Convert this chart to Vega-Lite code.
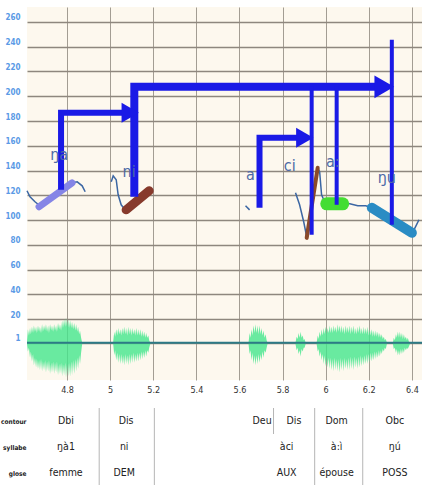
{
  "$schema": "https://vega.github.io/schema/vega-lite/v6.json",
  "padding": {"left": 0, "top": 7, "right": 0, "bottom": 0},
  "spacing": 9,
  "background": "white",
  "config": {"view": {"stroke": null}},
  "datasets": {
    "wave": [
      {"b":1,"t":4.614,"v":2,"v2":0},{"b":1,"t":4.618,"v":12,"v2":-6},{"b":1,"t":4.623,"v":7,"v2":-3},{"b":1,"t":4.628,"v":13,"v2":-11},{"b":1,"t":4.632,"v":8,"v2":-6},{"b":1,"t":4.637,"v":14,"v2":-14},{"b":1,"t":4.642,"v":9,"v2":-8},{"b":1,"t":4.646,"v":15,"v2":-17},{"b":1,"t":4.651,"v":10,"v2":-11},{"b":1,"t":4.656,"v":14,"v2":-19},{"b":1,"t":4.660,"v":9,"v2":-12},{"b":1,"t":4.665,"v":15,"v2":-20},{"b":1,"t":4.670,"v":10,"v2":-13},{"b":1,"t":4.674,"v":14,"v2":-21},{"b":1,"t":4.679,"v":9,"v2":-12},{"b":1,"t":4.684,"v":16,"v2":-22},{"b":1,"t":4.688,"v":10,"v2":-14},{"b":1,"t":4.693,"v":15,"v2":-21},{"b":1,"t":4.698,"v":11,"v2":-13},{"b":1,"t":4.702,"v":16,"v2":-23},{"b":1,"t":4.707,"v":10,"v2":-14},{"b":1,"t":4.712,"v":15,"v2":-22},{"b":1,"t":4.716,"v":9,"v2":-13},{"b":1,"t":4.721,"v":16,"v2":-24},{"b":1,"t":4.726,"v":11,"v2":-15},{"b":1,"t":4.730,"v":15,"v2":-23},{"b":1,"t":4.735,"v":10,"v2":-14},{"b":1,"t":4.740,"v":16,"v2":-24},{"b":1,"t":4.744,"v":11,"v2":-15},{"b":1,"t":4.749,"v":15,"v2":-23},{"b":1,"t":4.753,"v":10,"v2":-14},{"b":1,"t":4.758,"v":17,"v2":-25},{"b":1,"t":4.763,"v":12,"v2":-16},{"b":1,"t":4.767,"v":16,"v2":-24},{"b":1,"t":4.772,"v":11,"v2":-15},{"b":1,"t":4.777,"v":19,"v2":-26},{"b":1,"t":4.781,"v":13,"v2":-16},{"b":1,"t":4.786,"v":20,"v2":-25},{"b":1,"t":4.791,"v":14,"v2":-15},{"b":1,"t":4.795,"v":21,"v2":-27},{"b":1,"t":4.800,"v":14,"v2":-16},{"b":1,"t":4.805,"v":20,"v2":-26},{"b":1,"t":4.809,"v":13,"v2":-15},{"b":1,"t":4.814,"v":19,"v2":-26},{"b":1,"t":4.819,"v":13,"v2":-14},{"b":1,"t":4.823,"v":18,"v2":-25},{"b":1,"t":4.828,"v":12,"v2":-13},{"b":1,"t":4.833,"v":17,"v2":-24},{"b":1,"t":4.838,"v":11,"v2":-12},{"b":1,"t":4.842,"v":16,"v2":-22},{"b":1,"t":4.847,"v":10,"v2":-11},{"b":1,"t":4.851,"v":14,"v2":-20},{"b":1,"t":4.856,"v":8,"v2":-9},{"b":1,"t":4.860,"v":11,"v2":-16},{"b":1,"t":4.865,"v":5,"v2":-7},{"b":1,"t":4.870,"v":1,"v2":0},
      {"b":2,"t":5.014,"v":2,"v2":0},{"b":2,"t":5.019,"v":10,"v2":-9},{"b":2,"t":5.023,"v":6,"v2":-5},{"b":2,"t":5.028,"v":12,"v2":-13},{"b":2,"t":5.033,"v":7,"v2":-7},{"b":2,"t":5.037,"v":13,"v2":-15},{"b":2,"t":5.042,"v":8,"v2":-8},{"b":2,"t":5.047,"v":12,"v2":-16},{"b":2,"t":5.051,"v":7,"v2":-8},{"b":2,"t":5.056,"v":13,"v2":-16},{"b":2,"t":5.060,"v":8,"v2":-9},{"b":2,"t":5.065,"v":14,"v2":-17},{"b":2,"t":5.070,"v":8,"v2":-8},{"b":2,"t":5.074,"v":13,"v2":-16},{"b":2,"t":5.079,"v":7,"v2":-9},{"b":2,"t":5.084,"v":14,"v2":-17},{"b":2,"t":5.088,"v":8,"v2":-8},{"b":2,"t":5.093,"v":13,"v2":-16},{"b":2,"t":5.098,"v":7,"v2":-8},{"b":2,"t":5.102,"v":13,"v2":-15},{"b":2,"t":5.107,"v":8,"v2":-7},{"b":2,"t":5.112,"v":12,"v2":-15},{"b":2,"t":5.116,"v":7,"v2":-8},{"b":2,"t":5.121,"v":13,"v2":-14},{"b":2,"t":5.126,"v":7,"v2":-7},{"b":2,"t":5.130,"v":12,"v2":-14},{"b":2,"t":5.135,"v":7,"v2":-7},{"b":2,"t":5.140,"v":12,"v2":-13},{"b":2,"t":5.144,"v":6,"v2":-6},{"b":2,"t":5.149,"v":11,"v2":-12},{"b":2,"t":5.153,"v":6,"v2":-6},{"b":2,"t":5.158,"v":10,"v2":-11},{"b":2,"t":5.163,"v":5,"v2":-5},{"b":2,"t":5.167,"v":9,"v2":-10},{"b":2,"t":5.172,"v":5,"v2":-5},{"b":2,"t":5.177,"v":7,"v2":-7},{"b":2,"t":5.181,"v":3,"v2":-3},{"b":2,"t":5.186,"v":1,"v2":0},
      {"b":3,"t":5.642,"v":1,"v2":0},{"b":3,"t":5.647,"v":9,"v2":-8},{"b":3,"t":5.651,"v":5,"v2":-5},{"b":3,"t":5.656,"v":12,"v2":-13},{"b":3,"t":5.660,"v":7,"v2":-7},{"b":3,"t":5.665,"v":15,"v2":-16},{"b":3,"t":5.670,"v":9,"v2":-9},{"b":3,"t":5.674,"v":16,"v2":-17},{"b":3,"t":5.679,"v":9,"v2":-9},{"b":3,"t":5.684,"v":15,"v2":-16},{"b":3,"t":5.688,"v":8,"v2":-8},{"b":3,"t":5.693,"v":15,"v2":-15},{"b":3,"t":5.698,"v":8,"v2":-8},{"b":3,"t":5.702,"v":13,"v2":-13},{"b":3,"t":5.707,"v":7,"v2":-6},{"b":3,"t":5.712,"v":11,"v2":-11},{"b":3,"t":5.716,"v":5,"v2":-5},{"b":3,"t":5.721,"v":8,"v2":-7},{"b":3,"t":5.726,"v":3,"v2":-3},{"b":3,"t":5.730,"v":1,"v2":0},
      {"b":4,"t":5.860,"v":1,"v2":0},{"b":4,"t":5.865,"v":6,"v2":-5},{"b":4,"t":5.870,"v":4,"v2":-3},{"b":4,"t":5.874,"v":9,"v2":-8},{"b":4,"t":5.879,"v":5,"v2":-5},{"b":4,"t":5.884,"v":10,"v2":-10},{"b":4,"t":5.888,"v":5,"v2":-4},{"b":4,"t":5.893,"v":7,"v2":-6},{"b":4,"t":5.898,"v":3,"v2":-3},{"b":4,"t":5.902,"v":4,"v2":-3},{"b":4,"t":5.907,"v":1,"v2":0},
      {"b":5,"t":5.958,"v":1,"v2":0},{"b":5,"t":5.963,"v":7,"v2":-6},{"b":5,"t":5.967,"v":4,"v2":-4},{"b":5,"t":5.972,"v":10,"v2":-10},{"b":5,"t":5.977,"v":6,"v2":-6},{"b":5,"t":5.981,"v":12,"v2":-13},{"b":5,"t":5.986,"v":7,"v2":-8},{"b":5,"t":5.991,"v":13,"v2":-16},{"b":5,"t":5.995,"v":8,"v2":-9},{"b":5,"t":6.000,"v":14,"v2":-18},{"b":5,"t":6.005,"v":8,"v2":-10},{"b":5,"t":6.009,"v":13,"v2":-19},{"b":5,"t":6.014,"v":9,"v2":-11},{"b":5,"t":6.019,"v":15,"v2":-20},{"b":5,"t":6.023,"v":9,"v2":-11},{"b":5,"t":6.028,"v":14,"v2":-21},{"b":5,"t":6.033,"v":9,"v2":-12},{"b":5,"t":6.037,"v":15,"v2":-22},{"b":5,"t":6.042,"v":10,"v2":-11},{"b":5,"t":6.047,"v":14,"v2":-21},{"b":5,"t":6.051,"v":9,"v2":-12},{"b":5,"t":6.056,"v":16,"v2":-22},{"b":5,"t":6.060,"v":10,"v2":-12},{"b":5,"t":6.065,"v":15,"v2":-23},{"b":5,"t":6.070,"v":9,"v2":-11},{"b":5,"t":6.074,"v":15,"v2":-21},{"b":5,"t":6.079,"v":9,"v2":-12},{"b":5,"t":6.084,"v":14,"v2":-22},{"b":5,"t":6.088,"v":8,"v2":-11},{"b":5,"t":6.093,"v":15,"v2":-20},{"b":5,"t":6.098,"v":9,"v2":-12},{"b":5,"t":6.102,"v":14,"v2":-21},{"b":5,"t":6.107,"v":9,"v2":-11},{"b":5,"t":6.112,"v":15,"v2":-21},{"b":5,"t":6.116,"v":8,"v2":-10},{"b":5,"t":6.121,"v":14,"v2":-20},{"b":5,"t":6.126,"v":9,"v2":-11},{"b":5,"t":6.130,"v":15,"v2":-21},{"b":5,"t":6.135,"v":8,"v2":-10},{"b":5,"t":6.140,"v":13,"v2":-19},{"b":5,"t":6.144,"v":8,"v2":-11},{"b":5,"t":6.149,"v":14,"v2":-20},{"b":5,"t":6.153,"v":9,"v2":-10},{"b":5,"t":6.158,"v":15,"v2":-19},{"b":5,"t":6.163,"v":8,"v2":-9},{"b":5,"t":6.167,"v":13,"v2":-18},{"b":5,"t":6.172,"v":8,"v2":-10},{"b":5,"t":6.177,"v":14,"v2":-17},{"b":5,"t":6.181,"v":8,"v2":-9},{"b":5,"t":6.186,"v":13,"v2":-16},{"b":5,"t":6.191,"v":8,"v2":-8},{"b":5,"t":6.195,"v":14,"v2":-16},{"b":5,"t":6.200,"v":7,"v2":-8},{"b":5,"t":6.205,"v":12,"v2":-15},{"b":5,"t":6.209,"v":7,"v2":-7},{"b":5,"t":6.214,"v":12,"v2":-14},{"b":5,"t":6.219,"v":6,"v2":-7},{"b":5,"t":6.223,"v":11,"v2":-13},{"b":5,"t":6.228,"v":6,"v2":-6},{"b":5,"t":6.233,"v":11,"v2":-12},{"b":5,"t":6.237,"v":6,"v2":-6},{"b":5,"t":6.242,"v":10,"v2":-11},{"b":5,"t":6.247,"v":5,"v2":-5},{"b":5,"t":6.251,"v":9,"v2":-10},{"b":5,"t":6.256,"v":5,"v2":-5},{"b":5,"t":6.260,"v":8,"v2":-8},{"b":5,"t":6.265,"v":4,"v2":-4},{"b":5,"t":6.270,"v":6,"v2":-6},{"b":5,"t":6.274,"v":3,"v2":-3},{"b":5,"t":6.279,"v":4,"v2":-4},{"b":5,"t":6.284,"v":1,"v2":0},
      {"b":6,"t":6.312,"v":1,"v2":0},{"b":6,"t":6.316,"v":5,"v2":-4},{"b":6,"t":6.321,"v":3,"v2":-3},{"b":6,"t":6.326,"v":8,"v2":-7},{"b":6,"t":6.330,"v":5,"v2":-4},{"b":6,"t":6.335,"v":10,"v2":-9},{"b":6,"t":6.340,"v":5,"v2":-5},{"b":6,"t":6.344,"v":10,"v2":-9},{"b":6,"t":6.349,"v":5,"v2":-4},{"b":6,"t":6.354,"v":9,"v2":-8},{"b":6,"t":6.358,"v":4,"v2":-4},{"b":6,"t":6.363,"v":8,"v2":-7},{"b":6,"t":6.367,"v":4,"v2":-3},{"b":6,"t":6.372,"v":6,"v2":-5},{"b":6,"t":6.377,"v":3,"v2":-3},{"b":6,"t":6.381,"v":5,"v2":-4},{"b":6,"t":6.386,"v":2,"v2":-2},{"b":6,"t":6.391,"v":1,"v2":0}
    ],
    "base": [{"t": 4.614, "t2": 6.447, "v": 1}],
    "thin": [
      {"seg":"s1","ord":1,"t":4.614,"v":123.7},{"seg":"s1","ord":2,"t":4.628,"v":118.8},{"seg":"s1","ord":3,"t":4.651,"v":114.8},{"seg":"s1","ord":4,"t":4.674,"v":111.6},
      {"seg":"s2","ord":1,"t":4.823,"v":130.1},{"seg":"s2","ord":2,"t":4.847,"v":130.9},{"seg":"s2","ord":3,"t":4.870,"v":127.7},{"seg":"s2","ord":4,"t":4.884,"v":122.9},
      {"seg":"s3","ord":1,"t":5.005,"v":130.9},{"seg":"s3","ord":2,"t":5.014,"v":135.8},{"seg":"s3","ord":3,"t":5.028,"v":132.6},{"seg":"s3","ord":4,"t":5.037,"v":120.5},{"seg":"s3","ord":5,"t":5.051,"v":112.4},{"seg":"s3","ord":6,"t":5.070,"v":108.3},
      {"seg":"s4","ord":1,"t":5.628,"v":111.6},{"seg":"s4","ord":2,"t":5.647,"v":108.3},
      {"seg":"s5","ord":1,"t":5.860,"v":122.1},{"seg":"s5","ord":2,"t":5.879,"v":112.4},{"seg":"s5","ord":3,"t":5.898,"v":98.7},{"seg":"s5","ord":4,"t":5.912,"v":86.6},
      {"seg":"s6","ord":1,"t":5.963,"v":142.2},{"seg":"s6","ord":2,"t":5.972,"v":139},{"seg":"s6","ord":3,"t":5.981,"v":120.5},{"seg":"s6","ord":4,"t":5.995,"v":114.8},{"seg":"s6","ord":5,"t":6.009,"v":113.2},
      {"seg":"s7","ord":1,"t":6.079,"v":114},{"seg":"s7","ord":2,"t":6.112,"v":113.2},{"seg":"s7","ord":3,"t":6.149,"v":111.6},{"seg":"s7","ord":4,"t":6.186,"v":111.6},{"seg":"s7","ord":5,"t":6.214,"v":110},
      {"seg":"s8","ord":1,"t":6.405,"v":90.6},{"seg":"s8","ord":2,"t":6.419,"v":95.4},{"seg":"s8","ord":3,"t":6.433,"v":100.3}
    ],
    "thick": [
      {"seg":"nga","ord":1,"t":4.670,"v":110.8},{"seg":"nga","ord":2,"t":4.823,"v":130.1},
      {"seg":"ni","ord":1,"t":5.074,"v":108.3},{"seg":"ni","ord":2,"t":5.181,"v":123.7},
      {"seg":"ci","ord":1,"t":5.912,"v":85.7},{"seg":"ci","ord":2,"t":5.963,"v":142.2},
      {"seg":"ar","ord":1,"t":6.005,"v":113.2},{"seg":"ar","ord":2,"t":6.079,"v":113.2},
      {"seg":"ngu","ord":1,"t":6.214,"v":110},{"seg":"ngu","ord":2,"t":6.400,"v":89.8}
    ],
    "arrows": [
      {"id":"A","ord":1,"t":4.772,"v":124.5},{"id":"A","ord":2,"t":4.772,"v":186.6},{"id":"A","ord":3,"t":5.10,"v":186.6},
      {"id":"B","ord":1,"t":5.112,"v":118.8},{"id":"B","ord":2,"t":5.112,"v":207.6},{"id":"B","ord":3,"t":6.28,"v":207.6},
      {"id":"C","ord":1,"t":5.693,"v":110},{"id":"C","ord":2,"t":5.693,"v":166.5},{"id":"C","ord":3,"t":5.91,"v":166.5},
      {"id":"D","ord":1,"t":5.935,"v":88.2},{"id":"D","ord":2,"t":5.935,"v":207.6},
      {"id":"E","ord":1,"t":6.051,"v":112.4},{"id":"E","ord":2,"t":6.051,"v":207.6},
      {"id":"F","ord":1,"t":6.307,"v":96.2},{"id":"F","ord":2,"t":6.307,"v":245.6}
    ],
    "heads": [
      {"id":"A","t":5.093,"v":186.6},
      {"id":"B","t":6.272,"v":207.6},
      {"id":"C","t":5.903,"v":166.5}
    ],
    "syl": [
      {"label":"ŋa","t":4.763,"v":152.7},
      {"label":"ni","t":5.088,"v":139},
      {"label":"a","t":5.651,"v":136.6},
      {"label":"ci","t":5.833,"v":143.9},
      {"label":"a:","t":6.033,"v":147.1},
      {"label":"ŋu","t":6.284,"v":134.2}
    ],
    "cells": [
      {"t":4.795,"v":0.5,"label":"Dbi"},{"t":5.074,"v":0.5,"label":"Dis"},{"t":5.705,"v":0.5,"label":"Deu"},{"t":5.853,"v":0.5,"label":"Dis"},{"t":6.051,"v":0.5,"label":"Dom"},{"t":6.321,"v":0.5,"label":"Obc"},
      {"t":4.795,"v":1.5,"label":"ŋà1"},{"t":5.065,"v":1.5,"label":"ni"},{"t":5.819,"v":1.5,"label":"àci"},{"t":6.051,"v":1.5,"label":"à:ì"},{"t":6.321,"v":1.5,"label":"ŋú"},
      {"t":4.795,"v":2.5,"label":"femme"},{"t":5.065,"v":2.5,"label":"DEM"},{"t":5.819,"v":2.5,"label":"AUX"},{"t":6.051,"v":2.5,"label":"épouse"},{"t":6.321,"v":2.5,"label":"POSS"}
    ],
    "hlines": [{"v":0},{"v":1},{"v":2}],
    "vseps": [
      {"t":4.949,"v":0,"v2":3},{"t":5.205,"v":0,"v2":3},{"t":5.758,"v":0,"v2":1},{"t":5.949,"v":0,"v2":3},{"t":6.172,"v":0,"v2":3}
    ]
  },
  "vconcat": [
    {
      "width": 395,
      "height": 373,
      "view": {"fill": "#fdf8ee", "stroke": null},
      "encoding": {
        "x": {"field": "t", "type": "quantitative",
          "scale": {"domain": [4.614, 6.447], "nice": false, "zero": false},
          "axis": {"title": null, "values": [4.8, 5, 5.2, 5.4, 5.6, 5.8, 6, 6.2, 6.4], "format": "~g",
            "grid": true, "gridColor": "#a39d93", "gridWidth": 1, "ticks": false, "domain": false,
            "labelColor": "#333333", "labelFontSize": 9, "labelFont": "DejaVu Sans Condensed, Liberation Sans, sans-serif", "labelPadding": 5,
            "minExtent": 18, "maxExtent": 18}},
        "y": {"field": "v", "type": "quantitative",
          "scale": {"domain": [-29, 272], "nice": false, "zero": false},
          "axis": {"title": null, "values": [1, 20, 40, 60, 80, 100, 120, 140, 160, 180, 200, 220, 240, 260],
            "grid": true, "gridColor": "#8e877e", "gridWidth": 1.5, "ticks": false, "domain": false,
            "labelColor": "#5b9ae6", "labelFontSize": 8, "labelFontWeight": "bold", "labelFont": "DejaVu Sans Condensed, Liberation Sans, sans-serif",
            "labelBaseline": "bottom", "labelPadding": 7, "minExtent": 27, "maxExtent": 27}}
      },
      "layer": [
        {"data": {"name": "wave"}, "mark": {"type": "area", "color": "#43e68c", "opacity": 0.8},
          "encoding": {"y2": {"field": "v2"}, "detail": {"field": "b", "type": "nominal"}}},
        {"data": {"name": "base"}, "mark": {"type": "rule", "color": "#2d7a86", "strokeWidth": 2},
          "encoding": {"x2": {"field": "t2"}}},
        {"data": {"name": "thin"}, "mark": {"type": "line", "color": "#3b66a3", "strokeWidth": 1.5},
          "encoding": {"detail": {"field": "seg", "type": "nominal"}, "order": {"field": "ord", "type": "quantitative"}}},
        {"data": {"name": "thick"}, "transform": [{"filter": "datum.seg == 'nga'"}],
          "mark": {"type": "line", "color": "#8585e6", "strokeWidth": 7, "strokeCap": "round"},
          "encoding": {"order": {"field": "ord", "type": "quantitative"}}},
        {"data": {"name": "thick"}, "transform": [{"filter": "datum.seg == 'ni'"}],
          "mark": {"type": "line", "color": "#873a2c", "strokeWidth": 9, "strokeCap": "round"},
          "encoding": {"order": {"field": "ord", "type": "quantitative"}}},
        {"data": {"name": "thick"}, "transform": [{"filter": "datum.seg == 'ci'"}],
          "mark": {"type": "line", "color": "#8a4a2a", "strokeWidth": 4, "strokeCap": "round"},
          "encoding": {"order": {"field": "ord", "type": "quantitative"}}},
        {"data": {"name": "thick"}, "transform": [{"filter": "datum.seg == 'ar'"}],
          "mark": {"type": "line", "color": "#44dd33", "strokeWidth": 13, "strokeCap": "round"},
          "encoding": {"order": {"field": "ord", "type": "quantitative"}}},
        {"data": {"name": "thick"}, "transform": [{"filter": "datum.seg == 'ngu'"}],
          "mark": {"type": "line", "color": "#2a8cc4", "strokeWidth": 10, "strokeCap": "round"},
          "encoding": {"order": {"field": "ord", "type": "quantitative"}}},
        {"data": {"name": "arrows"}, "transform": [{"filter": "datum.id == 'A' || datum.id == 'C'"}],
          "mark": {"type": "line", "color": "#1a1ae6", "strokeWidth": 6, "strokeJoin": "miter"},
          "encoding": {"detail": {"field": "id", "type": "nominal"}, "order": {"field": "ord", "type": "quantitative"}}},
        {"data": {"name": "arrows"}, "transform": [{"filter": "datum.id == 'B'"}],
          "mark": {"type": "line", "color": "#1a1ae6", "strokeWidth": 8, "strokeJoin": "miter"},
          "encoding": {"order": {"field": "ord", "type": "quantitative"}}},
        {"data": {"name": "arrows"}, "transform": [{"filter": "datum.id == 'D' || datum.id == 'E' || datum.id == 'F'"}],
          "mark": {"type": "line", "color": "#1a1ae6", "strokeWidth": 4},
          "encoding": {"detail": {"field": "id", "type": "nominal"}, "order": {"field": "ord", "type": "quantitative"}}},
        {"data": {"name": "heads"}, "transform": [{"filter": "datum.id != 'B'"}],
          "mark": {"type": "point", "shape": "triangle-right", "filled": true, "color": "#1a1ae6", "size": 400, "opacity": 1}},
        {"data": {"name": "heads"}, "transform": [{"filter": "datum.id == 'B'"}],
          "mark": {"type": "point", "shape": "triangle-right", "filled": true, "color": "#1a1ae6", "size": 520, "opacity": 1}},
        {"data": {"name": "syl"}, "mark": {"type": "text", "color": "#4d6aa6", "fontSize": 16, "font": "DejaVu Sans Condensed, Liberation Sans, sans-serif", "baseline": "middle"},
          "encoding": {"text": {"field": "label", "type": "nominal"}}}
      ]
    },
    {
      "width": 395,
      "height": 78,
      "view": {"fill": "white", "stroke": null},
      "encoding": {
        "x": {"field": "t", "type": "quantitative",
          "scale": {"domain": [4.614, 6.447], "nice": false, "zero": false}, "axis": null},
        "y": {"field": "v", "type": "quantitative",
          "scale": {"domain": [3, 0], "nice": false, "zero": false},
          "axis": {"title": null, "values": [0.5, 1.5, 2.5], "grid": false, "ticks": false, "domain": false,
            "labelExpr": "datum.value < 1 ? 'contour' : datum.value < 2 ? 'syllabe' : 'glose'",
            "labelColor": "#222222", "labelFontSize": 6.5, "labelFontWeight": "bold", "labelFont": "DejaVu Sans Condensed, Liberation Sans, sans-serif",
            "labelPadding": 1, "labelLimit": 40, "minExtent": 27, "maxExtent": 27}}
      },
      "layer": [
        {"data": {"name": "vseps"}, "mark": {"type": "rule", "color": "#b5b5b5", "strokeWidth": 1},
          "encoding": {"y2": {"field": "v2"}}},
        {"data": {"name": "hlines"}, "mark": {"type": "rule", "color": "#c8c8c8", "strokeWidth": 1, "yOffset": 2.5},
          "encoding": {}},
        {"data": {"name": "hlines"}, "mark": {"type": "rule", "color": "#5f5f5f", "strokeWidth": 1.5},
          "encoding": {}},
        {"data": {"name": "cells"}, "mark": {"type": "text", "color": "#222222", "fontSize": 10.5, "font": "DejaVu Sans Condensed, Liberation Sans, sans-serif", "baseline": "middle"},
          "encoding": {"text": {"field": "label", "type": "nominal"}}}
      ]
    }
  ]
}
